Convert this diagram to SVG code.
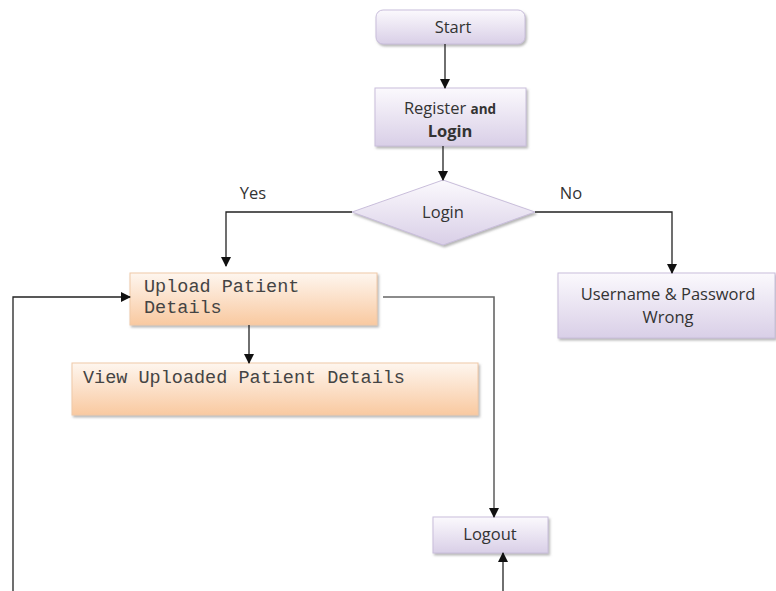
<svg xmlns="http://www.w3.org/2000/svg" width="776" height="591" viewBox="0 0 776 591">
<defs>
<linearGradient id="gp" x1="0" y1="0" x2="0" y2="1"><stop offset="0" stop-color="#fbf9fd"/><stop offset="1" stop-color="#d9cfe7"/></linearGradient>
<linearGradient id="go" x1="0" y1="0" x2="0" y2="1"><stop offset="0" stop-color="#fef6ef"/><stop offset="1" stop-color="#f9c9a0"/></linearGradient>
<filter id="sh" x="-10%" y="-10%" width="130%" height="140%"><feDropShadow dx="1.5" dy="2" stdDeviation="1" flood-color="#888" flood-opacity="0.6"/></filter>
<marker id="ah" markerWidth="10" markerHeight="10" refX="9" refY="5" orient="auto" markerUnits="userSpaceOnUse"><path d="M0,0 L10,5 L0,10 z" fill="#111"/></marker>
<style>
.p{fill:url(#gp);stroke:#c9bedb;stroke-width:1;filter:url(#sh)}
.o{fill:url(#go);stroke:#f0c9a8;stroke-width:1;filter:url(#sh)}
.t{font-family:"Open Sans","Liberation Sans",sans-serif;font-size:16.5px;fill:#333;text-anchor:middle}
.m{font-family:"Liberation Mono","Courier New",monospace;font-size:18.5px;fill:#444}
.c{fill:none;stroke:#222;stroke-width:1.3}
.g{fill:none;stroke:#666;stroke-width:1.6}
</style>
</defs>
<g id="start"><rect class="p" x="376" y="10" width="149" height="34" rx="7"/><text class="t" x="453" y="33">Start</text></g>
<g id="register"><rect class="p" x="375" y="88" width="151" height="58"/><text class="t" x="450" y="114">Register <tspan font-weight="bold" font-size="13.5">and</tspan></text><text class="t" x="450" y="137" font-weight="bold" font-size="13.5">Login</text></g>
<g id="login"><polygon class="p" points="443,180 535,212 443,245 352,212"/><text class="t" x="443" y="218">Login</text></g>
<g id="upload"><rect class="o" x="130" y="273" width="247" height="52"/><text class="m" x="144" y="292">Upload Patient</text><text class="m" x="144" y="313">Details</text></g>
<g id="wrong"><rect class="p" x="558" y="273" width="217" height="65"/><text class="t" x="668" y="300">Username &amp; Password</text><text class="t" x="668" y="323">Wrong</text></g>
<g id="view"><rect class="o" x="72" y="363" width="406" height="52"/><text class="m" x="83" y="383">View Uploaded Patient Details</text></g>
<g id="logout"><rect class="p" x="433" y="517" width="115" height="36"/><text class="t" x="490" y="540" font-size="14.5">Logout</text></g>
<g id="labels"><text class="t" x="253" y="199" font-size="13.5">Yes</text><text class="t" x="571" y="199" font-size="13.5">No</text></g>
<g id="connectors">
<line class="c" x1="445" y1="44" x2="445" y2="88" marker-end="url(#ah)"/>
<line class="c" x1="443" y1="146" x2="443" y2="180" marker-end="url(#ah)"/>
<polyline class="c" points="352,212 226,212 226,266" marker-end="url(#ah)"/>
<polyline class="c" points="535,212 672,212 672,273" marker-end="url(#ah)"/>
<line class="c" x1="249" y1="325" x2="249" y2="363" marker-end="url(#ah)"/>
<polyline class="g" points="383,297 494,297 494,517" marker-end="url(#ah)"/>
<line class="c" x1="503" y1="591" x2="503" y2="553" marker-end="url(#ah)"/>
<polyline class="c" points="13,591 13,297 130,297" marker-end="url(#ah)"/>
</g>
</svg>
